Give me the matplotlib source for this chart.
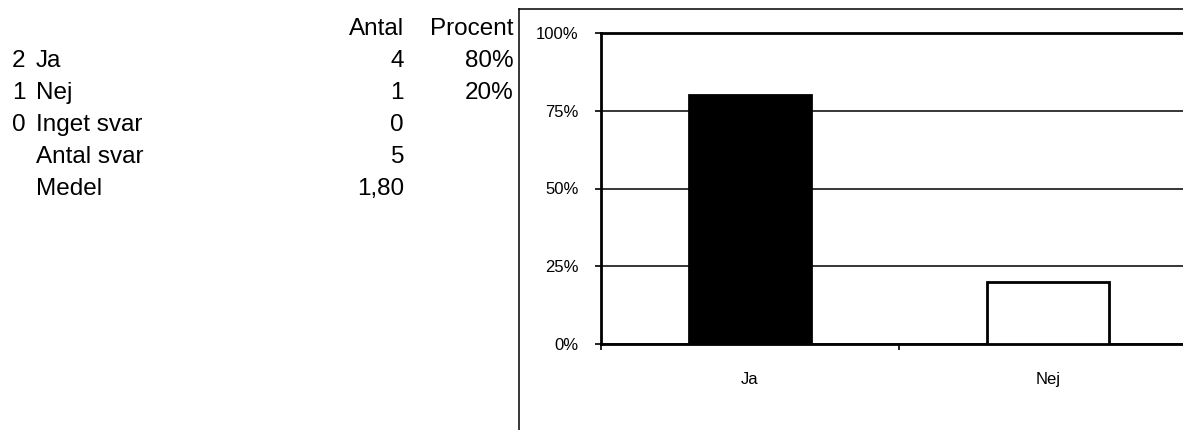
import matplotlib
matplotlib.use("Agg")
import matplotlib.pyplot as plt
from matplotlib.lines import Line2D
from matplotlib.ticker import FixedLocator, PercentFormatter

plt.rcParams['font.family'] = ['Liberation Sans', 'DejaVu Sans']

# table on the left
codes = ['2', '1', '0', '', '']
labels = ['Ja', 'Nej', 'Inget svar', 'Antal svar', 'Medel']
antal = ['4', '1', '0', '5', '1,80']
procent = ['80%', '20%', '', '', '']

# chart
categories = ['Ja', 'Nej']
values = [80, 20]
colors = ['black', 'white']

W, H = 1183, 430
fig = plt.figure(figsize=(W / 100, H / 100), dpi=100)

def fx(px):
    return px / W

def fy(py):
    return 1 - py / H

fs = 17.5
fig.text(fx(404), fy(35), 'Antal', fontsize=fs, ha='right', va='baseline')
fig.text(fx(514), fy(35), 'Procent', fontsize=fs, ha='right', va='baseline')
for i in range(len(labels)):
    base = 67 + i * 32
    fig.text(fx(12), fy(base), codes[i], fontsize=fs, ha='left', va='baseline')
    fig.text(fx(36), fy(base), labels[i], fontsize=fs, ha='left', va='baseline')
    fig.text(fx(404), fy(base), antal[i], fontsize=fs, ha='right', va='baseline')
    fig.text(fx(514), fy(base), procent[i], fontsize=fs, ha='right', va='baseline')

# outer frame of the chart object
fig.add_artist(Line2D([fx(519), fx(519)], [fy(9), fy(440)], color='black', lw=1.1))
fig.add_artist(Line2D([fx(519), fx(1190)], [fy(9), fy(9)], color='black', lw=1.1))

ax = fig.add_axes([fx(601), fy(344), fx(596), (344 - 33) / H])
x = list(range(len(categories)))
ax.bar(x, values, width=0.41, color=colors, edgecolor='black', linewidth=2, zorder=3)
ax.set_xlim(-0.5, len(categories) - 0.5)
ax.set_ylim(0, 100)
ax.set_yticks([0, 25, 50, 75, 100])
ax.yaxis.set_major_formatter(PercentFormatter(decimals=0))
ax.grid(axis='y', color='black', lw=1.1, zorder=1)

ax.xaxis.set_major_locator(FixedLocator([-0.5, 0.5, 1.5]))
ax.set_xticklabels([])
ax.xaxis.set_minor_locator(FixedLocator(x))
ax.set_xticklabels(categories, minor=True)
ax.tick_params(axis='x', which='minor', length=0, pad=20, labelsize=12)
ax.tick_params(axis='x', which='major', length=4, width=1.2, direction='out')
ax.tick_params(axis='y', length=4, width=1.2, direction='out', pad=12, labelsize=12)

for s in ['left', 'bottom', 'top']:
    ax.spines[s].set_linewidth(2)
ax.spines['right'].set_visible(False)

fig.savefig('out.png', dpi=100)
